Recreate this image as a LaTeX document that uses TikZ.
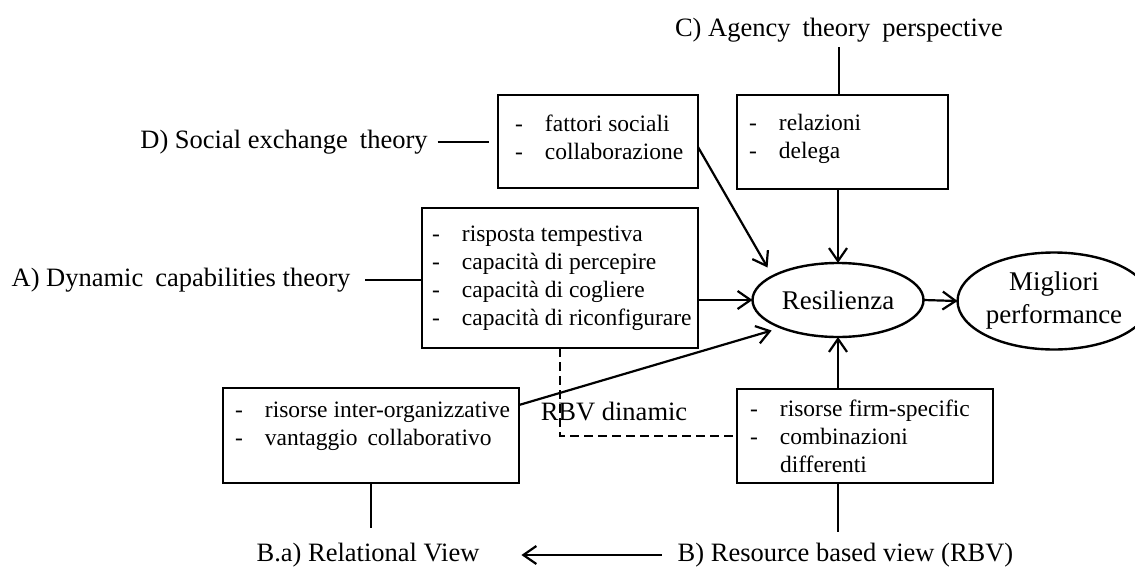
\documentclass[tikz,border=0pt]{standalone}
\usepackage{fontspec}
\setmainfont{Liberation Serif}
\usetikzlibrary{arrows.meta,shapes.geometric}

% font sizes for list boxes, theory labels and the two ovals
\newcommand{\boxfont}{\fontsize{23.5}{28}\selectfont}
\newcommand{\lblfont}{\fontsize{26.5}{32}\selectfont}
\newcommand{\ovfont}{\fontsize{27}{33}\selectfont}
% bullet dash followed by a fixed indent
\newcommand{\dashitem}{\makebox[30pt][l]{-}}
% a slightly wider word gap
\newcommand{\wsp}{\hspace{12pt}}

\begin{document}
\begin{tikzpicture}[x=1pt,y=-1pt,
  every node/.style={inner sep=0pt, outer sep=0pt},
  listbox/.style={draw, rectangle, line width=2.4pt},
  listtext/.style={font=\boxfont, align=left, anchor=west},
  theory/.style={font=\lblfont},
  oval/.style={draw, ellipse, line width=2.4pt, font=\ovfont, align=center},
  link/.style={line width=2.2pt},
  thinlink/.style={line width=1.7pt},
  arr/.style={link, -{Straight Barb[length=13pt,width=18pt]}},
  dashline/.style={line width=2.2pt, dash pattern=on 9pt off 5pt}
]
\useasboundingbox (0,0) rectangle (1135,568);

% ---- boxes
\node[listbox, minimum width=200pt, minimum height=93pt] (Dbox) at (598,141.5) {};
\node[listbox, minimum width=211pt, minimum height=94pt] (Cbox) at (842.5,142) {};
\node[listbox, minimum width=276pt, minimum height=140pt] (Abox) at (560,278) {};
\node[listbox, minimum width=296pt, minimum height=95pt] (BAbox) at (371,435.5) {};
\node[listbox, minimum width=256pt, minimum height=94pt] (RBVbox) at (865,436) {};

% ---- box contents
\node[listtext] (Dtxt) at ([xshift=17pt,yshift=4pt]Dbox.west)
  {\dashitem fattori sociali\\ \dashitem collaborazione};
\node[listtext] (Ctxt) at ([xshift=12pt,yshift=3pt]Cbox.west)
  {\dashitem relazioni\\ \dashitem delega};
\node[listtext] (Atxt) at ([xshift=10pt]Abox.west)
  {\dashitem risposta tempestiva\\ \dashitem capacità di percepire\\
   \dashitem capacità di cogliere\\ \dashitem capacità di riconfigurare};
\node[listtext] (BAtxt) at ([xshift=12pt,yshift=9.5pt]BAbox.west)
  {\dashitem risorse inter-organizzative\\ \dashitem vantaggio\hspace{4pt} collaborativo};
\node[listtext] (RBVtxt) at ([xshift=13pt]RBVbox.west)
  {\dashitem risorse firm-specific\\ \dashitem combinazioni\\ \hspace*{30pt}differenti};

% ---- ovals
\node[oval, minimum width=171pt, minimum height=74pt] (Res) at (838,300) {Resilienza};
\node[oval, minimum width=160pt, minimum height=97pt] (Mig) at (1054,301) {Migliori\\performance};

% ---- theory labels
\node[theory] (Clbl) at (839,30) {C) Agency\wsp theory\wsp perspective};
\node[theory] (Dlbl) at (284,142) {D) Social exchange\wsp theory};
\node[theory] (Albl) at (181,280) {A) Dynamic\wsp capabilities theory};
\node[theory] (BAlbl) at (368,555) {B.a) Relational View};
\node[theory] (Blbl) at (845.5,555) {B) Resource based view (RBV)};
\node[theory] (RBVd) at (614,412) {RBV dinamic};

% ---- connectors
\draw[link, shorten <=5pt] (Clbl.south) -- (Clbl.south |- Cbox.north);
\draw[link, shorten <=10pt, shorten >=9pt] (Dlbl.east) -- (Dlbl.east -| Dbox.west);
\draw[link, shorten <=15pt] (Albl.east) -- (Albl.east -| Abox.west);
\draw[thinlink, shorten >=15pt] (BAbox.south) -- (BAbox.south |- BAlbl.north);
\draw[thinlink, shorten >=11pt] (RBVbox.south -| Res.south) -- (Blbl.north -| Res.south);

\draw[arr] (Cbox.south -| Res.north) -- (Res.north);
\draw[arr, shorten >=10pt] ([yshift=-5.5pt]Dbox.east) -- (Res.160);
\draw[arr] (Abox.east |- Res.west) -- (Res.west);
\draw[arr, shorten >=10pt] ([yshift=30.5pt]BAbox.east) -- (Res.206);
\draw[arr] (RBVbox.north -| Res.south) -- (Res.south);
\draw[arr] (Res.east) -- (Mig.west);
\draw[arr, shorten <=16pt, shorten >=42pt] (Blbl.west) -- (BAlbl.east);

\draw[dashline] (Abox.south) |- (RBVbox.west);
\end{tikzpicture}
\end{document}
